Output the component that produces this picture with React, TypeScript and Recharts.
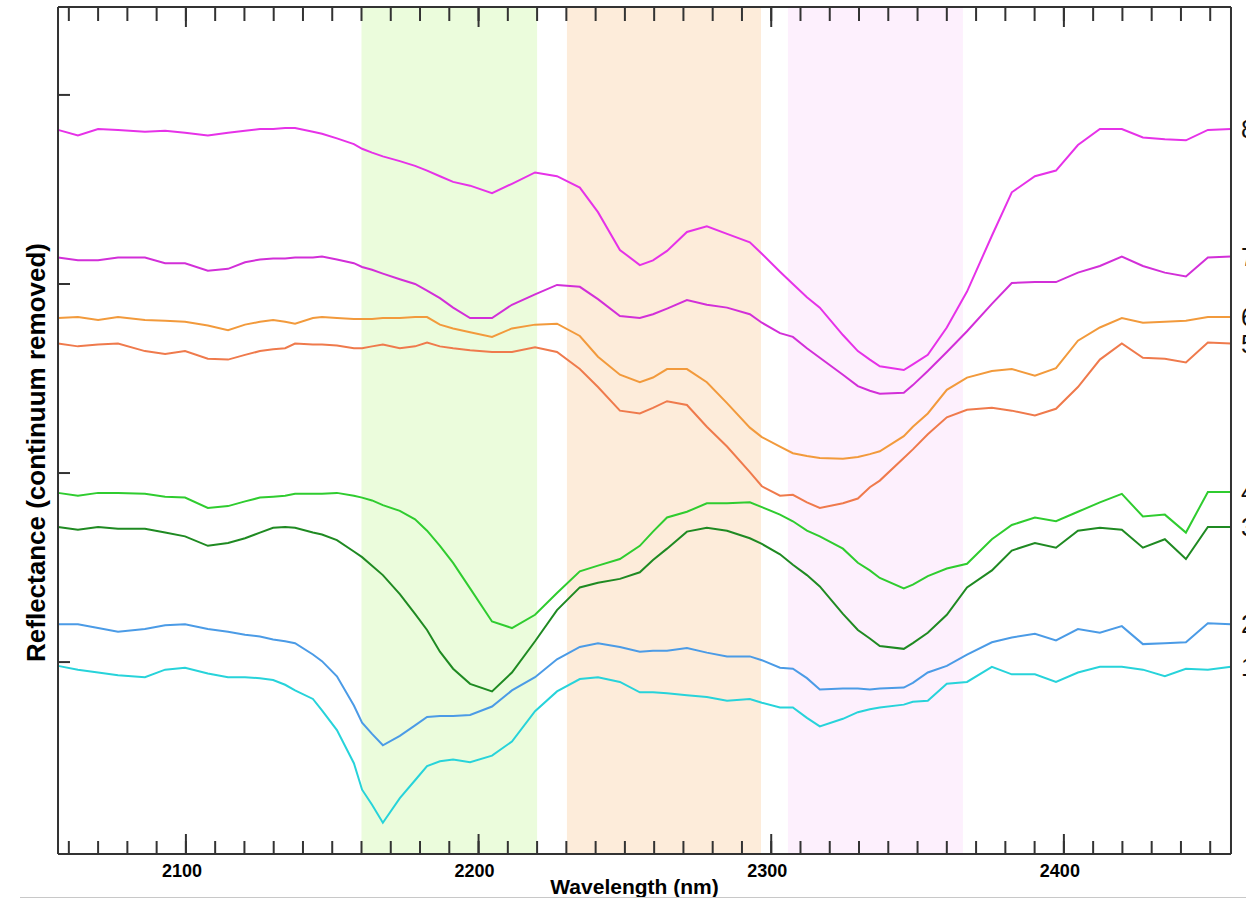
import React from 'react';
import { LineChart, Line, XAxis, YAxis, ReferenceArea } from 'recharts';

const FONT = "'Liberation Sans', Arial, Helvetica, sans-serif";
const AXIS = '#333333';

// band centres (nm)
const wavelengths = [2056.3, 2063.1, 2070.0, 2076.8, 2086.0, 2092.9, 2099.7, 2107.5, 2114.4, 2120.2, 2125.3, 2129.8, 2133.9, 2137.3, 2143.4, 2146.5, 2151.6, 2157.4, 2160.2, 2163.6, 2167.3, 2173.1, 2178.3, 2182.4, 2186.8, 2191.3, 2197.1, 2204.6, 2211.4, 2219.3, 2226.8, 2234.6, 2240.8, 2248.3, 2255.1, 2259.6, 2264.4, 2271.2, 2278.0, 2284.9, 2292.7, 2296.8, 2303.0, 2307.4, 2312.2, 2316.6, 2324.5, 2329.6, 2333.7, 2337.1, 2345.3, 2348.4, 2353.5, 2360.0, 2366.9, 2375.4, 2382.2, 2390.1, 2397.3, 2404.8, 2412.3, 2419.8, 2427.0, 2434.5, 2441.7, 2449.2, 2457.1];

const s1 = [0.196, 0.192, 0.189, 0.186, 0.184, 0.192, 0.194, 0.188, 0.184, 0.184, 0.183, 0.181, 0.176, 0.170, 0.161, 0.149, 0.128, 0.093, 0.065, 0.049, 0.030, 0.056, 0.075, 0.090, 0.095, 0.097, 0.094, 0.101, 0.116, 0.148, 0.169, 0.182, 0.184, 0.179, 0.168, 0.168, 0.167, 0.165, 0.163, 0.159, 0.161, 0.157, 0.152, 0.152, 0.141, 0.132, 0.140, 0.147, 0.150, 0.152, 0.155, 0.158, 0.159, 0.177, 0.179, 0.195, 0.187, 0.187, 0.179, 0.189, 0.195, 0.195, 0.192, 0.185, 0.193, 0.192, 0.195];
const s2 = [0.240, 0.240, 0.236, 0.232, 0.235, 0.239, 0.240, 0.235, 0.232, 0.229, 0.227, 0.224, 0.222, 0.220, 0.208, 0.201, 0.185, 0.154, 0.136, 0.124, 0.112, 0.122, 0.133, 0.142, 0.143, 0.143, 0.144, 0.153, 0.170, 0.184, 0.203, 0.216, 0.220, 0.216, 0.211, 0.212, 0.212, 0.215, 0.210, 0.206, 0.206, 0.202, 0.194, 0.193, 0.183, 0.171, 0.172, 0.172, 0.171, 0.172, 0.173, 0.178, 0.189, 0.196, 0.208, 0.221, 0.226, 0.230, 0.223, 0.235, 0.231, 0.238, 0.219, 0.220, 0.221, 0.241, 0.240];
const s3 = [0.343, 0.340, 0.343, 0.341, 0.341, 0.337, 0.333, 0.323, 0.326, 0.331, 0.337, 0.342, 0.343, 0.342, 0.337, 0.335, 0.329, 0.317, 0.311, 0.302, 0.292, 0.272, 0.251, 0.234, 0.211, 0.193, 0.177, 0.169, 0.189, 0.222, 0.255, 0.279, 0.284, 0.288, 0.295, 0.308, 0.320, 0.338, 0.342, 0.339, 0.331, 0.325, 0.314, 0.303, 0.292, 0.280, 0.251, 0.234, 0.225, 0.217, 0.214, 0.220, 0.231, 0.250, 0.279, 0.297, 0.318, 0.326, 0.321, 0.339, 0.342, 0.340, 0.321, 0.330, 0.309, 0.343, 0.343];
const s4 = [0.379, 0.376, 0.379, 0.379, 0.378, 0.375, 0.374, 0.363, 0.365, 0.370, 0.374, 0.375, 0.376, 0.378, 0.378, 0.378, 0.379, 0.376, 0.374, 0.371, 0.366, 0.360, 0.351, 0.339, 0.323, 0.305, 0.278, 0.243, 0.236, 0.250, 0.273, 0.296, 0.302, 0.309, 0.323, 0.338, 0.353, 0.359, 0.368, 0.368, 0.369, 0.364, 0.356, 0.349, 0.339, 0.333, 0.320, 0.305, 0.297, 0.289, 0.278, 0.282, 0.291, 0.299, 0.304, 0.330, 0.345, 0.353, 0.349, 0.359, 0.369, 0.378, 0.354, 0.356, 0.337, 0.380, 0.380];
const s5 = [0.537, 0.534, 0.536, 0.537, 0.529, 0.526, 0.529, 0.521, 0.520, 0.525, 0.529, 0.531, 0.532, 0.537, 0.536, 0.536, 0.535, 0.532, 0.532, 0.534, 0.536, 0.532, 0.534, 0.538, 0.534, 0.532, 0.530, 0.528, 0.528, 0.533, 0.528, 0.510, 0.491, 0.466, 0.463, 0.469, 0.476, 0.472, 0.449, 0.428, 0.401, 0.386, 0.376, 0.377, 0.369, 0.363, 0.368, 0.373, 0.385, 0.392, 0.416, 0.425, 0.441, 0.459, 0.467, 0.469, 0.466, 0.461, 0.468, 0.491, 0.520, 0.537, 0.522, 0.521, 0.517, 0.538, 0.537];
const s6 = [0.564, 0.565, 0.562, 0.565, 0.562, 0.561, 0.560, 0.556, 0.551, 0.557, 0.560, 0.562, 0.560, 0.558, 0.564, 0.565, 0.564, 0.563, 0.563, 0.563, 0.564, 0.564, 0.565, 0.565, 0.557, 0.553, 0.549, 0.544, 0.553, 0.557, 0.558, 0.545, 0.523, 0.504, 0.496, 0.501, 0.510, 0.510, 0.496, 0.474, 0.448, 0.438, 0.428, 0.421, 0.418, 0.416, 0.415, 0.417, 0.420, 0.423, 0.439, 0.449, 0.463, 0.488, 0.501, 0.508, 0.510, 0.503, 0.511, 0.540, 0.554, 0.564, 0.559, 0.560, 0.561, 0.565, 0.565];
const s7 = [0.628, 0.625, 0.625, 0.628, 0.628, 0.622, 0.622, 0.614, 0.616, 0.623, 0.626, 0.627, 0.627, 0.628, 0.628, 0.629, 0.626, 0.622, 0.618, 0.615, 0.611, 0.605, 0.600, 0.593, 0.585, 0.575, 0.564, 0.564, 0.578, 0.589, 0.599, 0.597, 0.584, 0.566, 0.564, 0.568, 0.574, 0.583, 0.578, 0.575, 0.568, 0.559, 0.548, 0.544, 0.532, 0.522, 0.504, 0.492, 0.487, 0.484, 0.485, 0.493, 0.508, 0.528, 0.550, 0.579, 0.601, 0.602, 0.602, 0.612, 0.619, 0.629, 0.619, 0.612, 0.608, 0.628, 0.629];
const s8 = [0.763, 0.757, 0.764, 0.763, 0.761, 0.762, 0.760, 0.757, 0.760, 0.762, 0.764, 0.764, 0.765, 0.765, 0.761, 0.759, 0.754, 0.748, 0.743, 0.739, 0.735, 0.730, 0.725, 0.720, 0.714, 0.708, 0.704, 0.696, 0.706, 0.718, 0.714, 0.702, 0.676, 0.636, 0.620, 0.625, 0.635, 0.655, 0.661, 0.653, 0.644, 0.632, 0.613, 0.600, 0.586, 0.575, 0.546, 0.529, 0.520, 0.513, 0.509, 0.515, 0.525, 0.554, 0.592, 0.651, 0.697, 0.714, 0.720, 0.747, 0.764, 0.764, 0.755, 0.753, 0.752, 0.763, 0.764];

const seriesKeys = ['s1', 's2', 's3', 's4', 's5', 's6', 's7', 's8'];
const seriesValues = [s1, s2, s3, s4, s5, s6, s7, s8];
const seriesNames = ['1', '2', '3', '4', '5', '6', '7', '8'];
const seriesColors = ['#27d3da', '#4b9be6', '#1f8a22', '#2fcc2f', '#ef7a4c', '#f29a3c', '#d22fd8', '#e632e8'];

const bandStarts = [2160.0, 2230.2, 2305.7];
const bandEnds = [2220.0, 2296.5, 2365.5];
const bandColors = ['#ebfcdc', '#fdecda', '#fdf0fd'];

const xDomain = [2056.3, 2457.1];
const yDomain = [-0.003, 0.893];
const majorTicks = [2100, 2200, 2300, 2400];
const minorTicks = [2060, 2070, 2080, 2090, 2100, 2110, 2120, 2130, 2140, 2150, 2160, 2170, 2180, 2190, 2200, 2210, 2220, 2230, 2240, 2250, 2260, 2270, 2280, 2290, 2300, 2310, 2320, 2330, 2340, 2350, 2360, 2370, 2380, 2390, 2400, 2410, 2420, 2430, 2440, 2450];
const yTicks = [0.2, 0.4, 0.6, 0.8];

const rows = wavelengths.map((w, i) => {
  const r: any = { w };
  seriesKeys.forEach((k, j) => { r[k] = seriesValues[j][i]; });
  return r;
});

const blankTick = () => <g />;

function endLabel(name: string, count: number) {
  return (props: any) => {
    if (props.index !== count - 1) return <g key={`d-${name}-${props.index}`} />;
    return (
      <text key={`l-${name}`} x={props.cx + 10} y={props.cy} dy={9} fontSize={25} fill="#111" fontFamily={FONT}>
        {name}
      </text>
    );
  };
}

const lineStyle = { stroke: AXIS, strokeWidth: 2 };
const THIN = 0.01;

export default function App() {
  return (
    <div style={{ position: 'absolute', left: 0, top: 0, width: 1246, height: 902, overflow: 'hidden', background: '#fff' }}>
      <LineChart width={1246} height={902} data={rows} margin={{ top: 7, right: 15, bottom: 48, left: 58 }}>
        {bandStarts.map((b, i) => (
          <ReferenceArea key={`band-${i}`} xAxisId="lab" yAxisId="left" x1={b} x2={bandEnds[i]} fill={bandColors[i]} fillOpacity={1} stroke="none" />
        ))}
        <XAxis
          xAxisId="lab" dataKey="w" type="number" domain={xDomain} ticks={majorTicks} interval={0} height={THIN}
          axisLine={false} tickLine={false} tickMargin={4}
          tick={{ fontSize: 18, fontWeight: 'bold', fill: '#000', fontFamily: FONT, dx: -4 }}
          label={{
            content: (p: any) => {
              const vb = p.viewBox || { x: 58, y: 854, width: 1173 };
              return (
                <text x={vb.x + vb.width / 2 - 10} y={vb.y + 40} textAnchor="middle" fontSize={21} fontWeight="bold" fill="#000" fontFamily={FONT}>
                  Wavelength (nm)
                </text>
              );
            },
          }}
        />
        <XAxis xAxisId="bMinor" dataKey="w" type="number" domain={xDomain} ticks={minorTicks} interval={0} height={THIN}
          tickSize={-13} tick={blankTick} axisLine={lineStyle} tickLine={lineStyle} />
        <XAxis xAxisId="bMajor" dataKey="w" type="number" domain={xDomain} ticks={majorTicks} interval={0} height={THIN}
          tickSize={-20} tick={blankTick} axisLine={false} tickLine={lineStyle} />
        <XAxis xAxisId="tMinor" orientation="top" dataKey="w" type="number" domain={xDomain} ticks={minorTicks} interval={0} height={THIN}
          tickSize={-14} tick={blankTick} axisLine={lineStyle} tickLine={lineStyle} />
        <XAxis xAxisId="tMajor" orientation="top" dataKey="w" type="number" domain={xDomain} ticks={majorTicks} interval={0} height={THIN}
          tickSize={-20} tick={blankTick} axisLine={false} tickLine={lineStyle} />
        <YAxis
          yAxisId="left" type="number" domain={yDomain} ticks={yTicks} interval={0} width={THIN}
          tickSize={-12} tick={blankTick} axisLine={lineStyle} tickLine={lineStyle}
          label={{
            content: (p: any) => {
              const vb = p.viewBox || { x: 58, y: 7, height: 847 };
              const cx = vb.x - 22;
              const cy = vb.y + vb.height / 2 + 22;
              return (
                <text x={cx} y={cy} transform={`rotate(-90, ${cx}, ${cy})`} textAnchor="middle" dominantBaseline="central"
                  fontSize={26} fontWeight="bold" fill="#000" fontFamily={FONT}>
                  Reflectance (continuum removed)
                </text>
              );
            },
          }}
        />
        <YAxis yAxisId="right" orientation="right" type="number" domain={yDomain} ticks={yTicks} interval={0} width={THIN}
          tickSize={-12} tick={blankTick} axisLine={lineStyle} tickLine={lineStyle} />
        {seriesKeys.map((k, j) => (
          <Line
            key={k} xAxisId="lab" yAxisId="left" type="linear" dataKey={k} name={seriesNames[j]}
            stroke={seriesColors[j]} strokeWidth={2} isAnimationActive={false}
            dot={endLabel(seriesNames[j], wavelengths.length)} activeDot={false}
          />
        ))}
      </LineChart>
      <div style={{ position: 'absolute', left: 20, top: 897, width: 1226, height: 1, background: '#c8c8c8' }} />
    </div>
  );
}
